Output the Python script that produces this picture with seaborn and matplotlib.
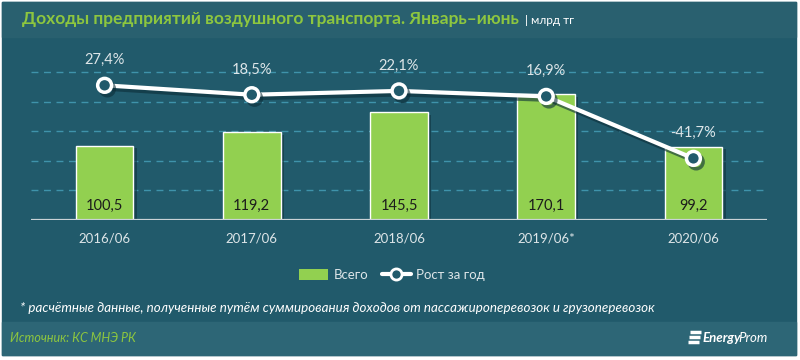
import numpy as np
import matplotlib
matplotlib.use("Agg")
import matplotlib.pyplot as plt
import matplotlib.patheffects as pe
from matplotlib.patches import Rectangle, Patch
from matplotlib.lines import Line2D
import seaborn as sns

# data
periods = ["2016/06", "2017/06", "2018/06", "2019/06*", "2020/06"]
total = [100.5, 119.2, 145.5, 170.1, 99.2]
growth = [27.4, 18.5, 22.1, 16.9, -41.7]
total_labels = ["100,5", "119,2", "145,5", "170,1", "99,2"]
growth_labels = ["27,4%", "18,5%", "22,1%", "16,9%", "-41,7%"]

BG = "#215a6b"
BAND_TOP = "#29606f"
BAND_BOTTOM = "#2d6676"
GREEN = "#92d050"
GRID = "#3f93ab"
TXT = "#dde5e8"

sns.set_theme(style="white")
plt.rcParams["font.family"] = ["Lato", "DejaVu Sans"]

W, H = 800, 360
fig = plt.figure(figsize=(8, 3.6), dpi=100, facecolor="white")


def px(x, y, w, h):
    # pixel box (from top-left) -> figure fraction
    return [x / W, 1 - (y + h) / H, w / W, h / H]


# background panels
for (x, y, w, h, c) in [(2, 2, 794, 353, BG), (2, 2, 794, 35, BAND_TOP),
                        (2, 322, 794, 33, BAND_BOTTOM)]:
    b = px(x, y, w, h)
    fig.add_artist(Rectangle((b[0], b[1]), b[2], b[3], transform=fig.transFigure,
                             color=c, zorder=-10))

ax = fig.add_axes(px(31, 50, 736, 170))
ax.set_facecolor("none")
ax.set_zorder(2)

df_x = np.arange(len(periods))
sns.barplot(x=periods, y=total, color=GREEN, width=0.39, saturation=1, ax=ax, zorder=3)
for bar in ax.patches:
    bar.set_path_effects([pe.SimplePatchShadow(offset=(2.5, -2), shadow_rgbFace="#0f3440", alpha=0.6),
                          pe.Normal()])

ymax = 170 / 0.74
ax.set_ylim(0, ymax)
ax.set_xlim(-0.5, len(periods) - 0.5)
for g in [40, 80, 120, 160, 200]:
    ax.axhline(g, color=GRID, lw=1, ls=(0, (5, 4)), zorder=1)
ax.axhline(0, color="#c9d2d6", lw=1.6, zorder=4)

for i, lab in enumerate(total_labels):
    ax.text(i, 9, lab, ha="center", va="bottom", fontsize=10.5, color="#1c1c1c", zorder=5)

ax.set_yticks([])
ax.set_xlabel("")
ax.set_ylabel("")
ax.tick_params(axis="x", length=0, pad=9, labelsize=9.5, labelcolor=TXT)
sns.despine(ax=ax, left=True, bottom=True)

ax2 = ax.twinx()
ax2.set_zorder(3)
ax2.set_ylim(-100, -100 + ymax * 0.7)
sns.lineplot(x=df_x, y=growth, ax=ax2, color="white", lw=3, marker="o", markersize=10,
             markerfacecolor=BG, markeredgecolor="white", markeredgewidth=2.5, zorder=6,
             path_effects=[pe.SimpleLineShadow(offset=(2, -2.5), shadow_color="#0c2d38", alpha=0.6),
                           pe.Normal()])
for i, (v, lab) in enumerate(zip(growth, growth_labels)):
    ax2.annotate(lab, (i, v), xytext=(0, 13), textcoords="offset points",
                 ha="center", va="bottom", fontsize=10.5, color=TXT)
ax2.set_yticks([])
ax2.set_facecolor("none")
for s in ax2.spines.values():
    s.set_visible(False)

# legend
handles = [Patch(facecolor=GREEN, edgecolor="none", label="Всего"),
           Line2D([0], [0], color="white", lw=3, marker="o", markersize=8,
                  markerfacecolor=BG, markeredgecolor="white", markeredgewidth=2,
                  label="Рост за год")]
fig.legend(handles=handles, loc="center", bbox_to_anchor=(392 / W, 1 - 275 / H), ncol=2,
           frameon=False, fontsize=9.5, labelcolor=TXT, handlelength=2.2, handleheight=0.9,
           columnspacing=1.0, handletextpad=0.4)

# titles and notes
fig.text(22 / W, 1 - 19 / H, "Доходы предприятий воздушного транспорта. Январь–июнь",
         fontsize=12.5, fontweight="bold", color="#8dc63f", va="center", ha="left")
fig.text(525 / W, 1 - 20 / H, "| млрд тг", fontsize=8.5, color="white", va="center", ha="left")
fig.text(20 / W, 1 - 308 / H,
         "* расчётные данные, полученные путём суммирования доходов от пассажироперевозок и грузоперевозок",
         fontsize=9.6, style="italic", color="white", va="center", ha="left")
fig.text(10 / W, 1 - 338 / H, "Источник: КС МНЭ РК", fontsize=9, style="italic",
         color="#8dc63f", va="center", ha="left")
fig.text(768 / W, 1 - 338 / H, "Prom", fontsize=9.5, style="italic", color="white",
         va="center", ha="right")
fig.text(741 / W, 1 - 338 / H, "Energy", fontsize=9.5, style="italic", fontweight="bold",
         color="white", va="center", ha="right")
for k in range(3):
    yy = 1 - (332 + k * 5) / H
    fig.add_artist(Line2D([(690 - k) / W, (701 - k) / W], [yy, yy], transform=fig.transFigure,
                          color="white", lw=2.5, solid_capstyle="butt"))

fig.savefig("out.png", dpi=100, facecolor="white")
